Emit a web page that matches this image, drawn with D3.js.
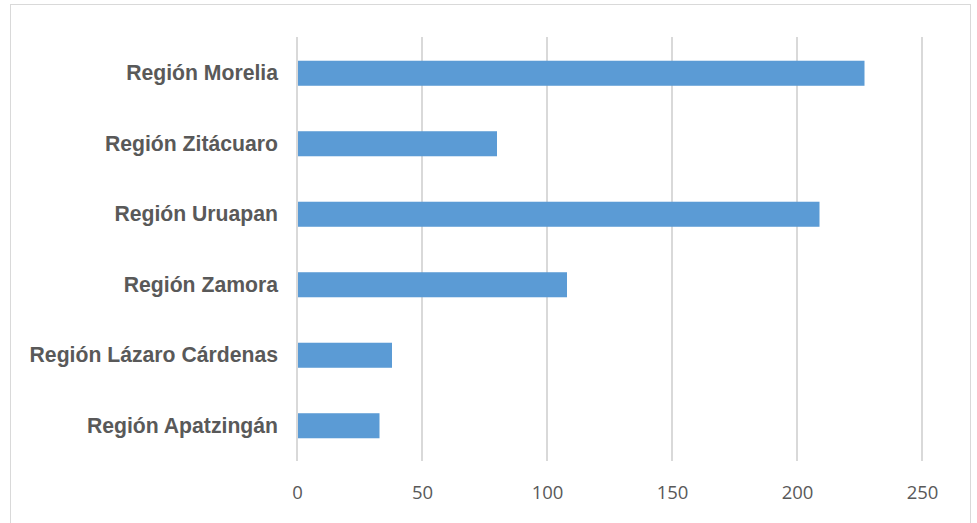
<!DOCTYPE html>
<html><head><meta charset="utf-8">
<script src="https://cdn.jsdelivr.net/npm/d3@7"></script>
<style>body{margin:0;background:#fff;}svg{display:block;}</style>
</head><body>
<svg id="c" width="977" height="523"></svg>
<script>
const categories = ["Región Morelia","Región Zitácuaro","Región Uruapan","Región Zamora","Región Lázaro Cárdenas","Región Apatzingán"];
const values = [227, 80, 209, 108, 38, 33];
const ticks = [0, 50, 100, 150, 200, 250];

const svg = d3.select("#c");
svg.append("rect").attr("x",10.5).attr("y",4.5).attr("width",960).attr("height",530)
  .attr("fill","#fff").attr("stroke","#d9d9d9").attr("stroke-width",1);

const x = d3.scaleLinear().domain([0,250]).range([297,922]);
const y = d3.scaleBand().domain(categories).range([38,461]).paddingInner(0.645).paddingOuter(0.3225);

svg.append("g").selectAll("line").data(ticks).join("line")
  .attr("x1",d=>x(d)).attr("x2",d=>x(d)).attr("y1",37).attr("y2",461)
  .attr("stroke","#d9d9d9").attr("stroke-width",2);

svg.append("g").selectAll("rect").data(values).join("rect")
  .attr("x",x(0)+1).attr("y",(d,i)=>y(categories[i]))
  .attr("width",d=>x(d)-x(0)-1).attr("height",y.bandwidth())
  .attr("fill","#5b9bd5");

const xAxis = d3.axisBottom(x).tickValues(ticks).tickSize(0).tickPadding(0);
const gx = svg.append("g").attr("transform","translate(0,486)").call(xAxis);
gx.select(".domain").remove();
gx.selectAll("text").attr("font-family","'Open Sans', sans-serif").attr("font-size",18.5)
  .attr("fill","#595959").attr("dy","0.71em");

const yAxis = d3.axisLeft(y).tickSize(0).tickPadding(0);
const gy = svg.append("g").attr("transform","translate(278,0)").call(yAxis);
gy.select(".domain").remove();
gy.selectAll("text").attr("font-family","'Liberation Sans', Arial, sans-serif").attr("font-size",21.2)
  .attr("font-weight","bold").attr("fill","#595959");
</script>
</body></html>
